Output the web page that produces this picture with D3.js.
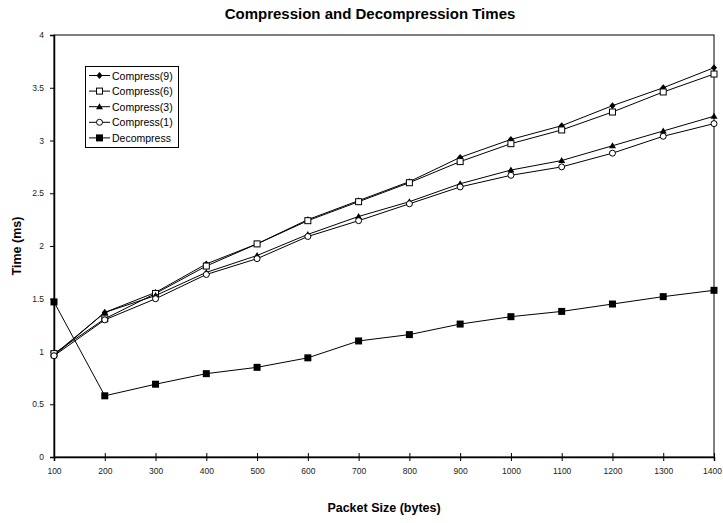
<!DOCTYPE html>
<html><head><meta charset="utf-8">
<script src="https://cdn.jsdelivr.net/npm/d3@7"></script>
<style>body{margin:0;background:#fff}svg{display:block;font-family:"Liberation Sans",Arial,sans-serif}</style>
</head><body>
<svg id="c" width="723" height="523"></svg>
<script>
const packetSizes = [100,200,300,400,500,600,700,800,900,1000,1100,1200,1300,1400];
const compress9 = [0.97,1.37,1.56,1.83,2.02,2.25,2.43,2.61,2.84,3.01,3.14,3.33,3.50,3.69];
const compress6 = [0.98,1.31,1.55,1.81,2.02,2.24,2.42,2.60,2.80,2.97,3.10,3.27,3.46,3.63];
const compress3 = [0.96,1.37,1.53,1.75,1.91,2.11,2.28,2.42,2.59,2.72,2.81,2.95,3.09,3.23];
const compress1 = [0.96,1.30,1.50,1.73,1.88,2.09,2.24,2.40,2.56,2.67,2.75,2.88,3.04,3.16];
const decompress = [1.47,0.58,0.69,0.79,0.85,0.94,1.10,1.16,1.26,1.33,1.38,1.45,1.52,1.58];
const seriesNames = ["Compress(9)","Compress(6)","Compress(3)","Compress(1)","Decompress"];
const yTicks = [0,0.5,1,1.5,2,2.5,3,3.5,4];

const series = [
  {name:seriesNames[0], values:compress9, sym:"diamond"},
  {name:seriesNames[1], values:compress6, sym:"squareOpen"},
  {name:seriesNames[2], values:compress3, sym:"triangle"},
  {name:seriesNames[3], values:compress1, sym:"circleOpen"},
  {name:seriesNames[4], values:decompress, sym:"square"}
];

const svg = d3.select("#c");
const L=54, R=714, T=35, B=457;
const x = d3.scaleLinear().domain([100,1400]).range([L,R]);
const y = d3.scaleLinear().domain([0,4]).range([B,T]);

// frame
svg.append("rect").attr("x",L).attr("y",T).attr("width",R-L).attr("height",B-T)
  .attr("fill","none").attr("stroke","#000").attr("stroke-width",1);

// y axis
const ya = svg.append("g").attr("transform",`translate(${L},0)`)
  .call(d3.axisLeft(y).tickValues(yTicks).tickSize(4).tickPadding(6).tickFormat(d3.format("")));
ya.select(".domain").attr("stroke-width",1.5);
ya.selectAll("text").attr("font-size",8.5).attr("fill","#222");
// x axis
const xa = svg.append("g").attr("transform",`translate(0,${B})`)
  .call(d3.axisBottom(x).tickValues(packetSizes).tickSize(4).tickPadding(7).tickFormat(d3.format("")));
xa.select(".domain").attr("stroke-width",1.5);
xa.selectAll(".tick line").attr("y1",-4);
xa.selectAll("text").attr("font-size",8.5).attr("fill","#222");
xa.selectAll("text").filter(d=>d===1400).attr("dx",-2);

// titles
svg.append("text").attr("x",370).attr("y",19).attr("text-anchor","middle")
  .attr("font-weight","bold").attr("font-size",15).text("Compression and Decompression Times");
svg.append("text").attr("x",384).attr("y",512).attr("text-anchor","middle")
  .attr("font-weight","bold").attr("font-size",12.5).text("Packet Size (bytes)");
svg.append("text").attr("transform","translate(21,246) rotate(-90)").attr("text-anchor","middle")
  .attr("font-weight","bold").attr("font-size",12.5).text("Time (ms)");

function drawSym(g, sym, cx, cy){
  if(sym==="diamond"){
    g.append("path").attr("d",`M${cx},${cy-3.5}L${cx+3},${cy}L${cx},${cy+3.5}L${cx-3},${cy}Z`).attr("fill","#000");
  } else if(sym==="squareOpen"){
    g.append("rect").attr("x",cx-3).attr("y",cy-3).attr("width",6).attr("height",6).attr("fill","#fff").attr("stroke","#000").attr("stroke-width",1);
  } else if(sym==="triangle"){
    g.append("path").attr("d",`M${cx},${cy-3.5}L${cx+3.5},${cy+2.5}L${cx-3.5},${cy+2.5}Z`).attr("fill","#000");
  } else if(sym==="circleOpen"){
    g.append("circle").attr("cx",cx).attr("cy",cy).attr("r",3).attr("fill","#fff").attr("stroke","#000").attr("stroke-width",1);
  } else {
    g.append("rect").attr("x",cx-3.5).attr("y",cy-3.5).attr("width",7).attr("height",7).attr("fill","#000");
  }
}

const line = d3.line().x((d,i)=>x(packetSizes[i])).y(d=>y(d));
series.forEach(s=>{
  const g = svg.append("g");
  g.append("path").attr("d",line(s.values)).attr("fill","none").attr("stroke","#000").attr("stroke-width",1);
  s.values.forEach((v,i)=>drawSym(g,s.sym,x(packetSizes[i]),y(v)));
});

// legend
const lg = svg.append("g");
lg.append("rect").attr("x",85.5).attr("y",66.5).attr("width",93).attr("height",81).attr("fill","#fff").attr("stroke","#000");
series.forEach((s,i)=>{
  const cy = 75.5 + i*15.6;
  lg.append("line").attr("x1",89).attr("x2",110).attr("y1",cy).attr("y2",cy).attr("stroke","#000");
  drawSym(lg,s.sym,99.5,cy);
  lg.append("text").attr("x",112).attr("y",cy+4).attr("font-size",10.5).text(s.name);
});
</script>
</body></html>
